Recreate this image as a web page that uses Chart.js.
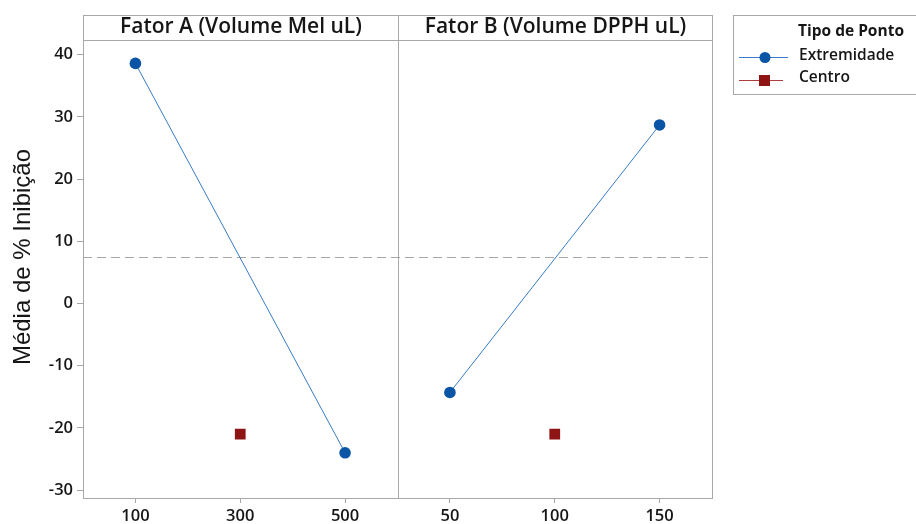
<!DOCTYPE html>
<html>
<head>
<meta charset="utf-8">
<script src="https://cdn.jsdelivr.net/npm/chart.js@4.4.1/dist/chart.umd.min.js"></script>
<style>
  html, body { margin: 0; padding: 0; background: #fff; }
  #wrap { width: 916px; height: 524px; }
</style>
</head>
<body>
<div id="wrap"><canvas id="chart" width="916" height="524"></canvas></div>
<script>
// main effects for % inhibition
const panelTitles = ['Fator A (Volume Mel uL)', 'Fator B (Volume DPPH uL)'];
const levelsA = [100, 500];
const meansA = [38.6, -24.0];
const centerA = [300];
const centerMeanA = [-21.0];
const ticksA = [100, 300, 500];

const levelsB = [50, 150];
const meansB = [-14.3, 28.7];
const centerB = [100];
const centerMeanB = [-21.0];
const ticksB = [50, 100, 150];

const overallMean = 7.4;
const yTicks = [-30, -20, -10, 0, 10, 20, 30, 40];

const yTitle = 'Média de % Inibição';
const legendTitle = 'Tipo de Ponto';
const seriesNames = ['Extremidade', 'Centro'];

const BLUE_LINE = '#3a7cc6';
const BLUE_PT = '#0b55a6';
const RED = '#8f1414';
const FRAME = '#a8a8a8';
const TEXT = '#161616';
const FONT = '"Open Sans", "Noto Sans", sans-serif';

const toPts = (xs, ys) => xs.map((x, i) => ({ x: x, y: ys[i] }));

const frameAndLabels = {
  id: 'frameAndLabels',
  beforeDraw(chart) {
    const c = chart.ctx;
    c.save();
    c.fillStyle = '#fff';
    c.fillRect(0, 0, chart.width, chart.height);
    c.restore();
  },
  beforeDatasetsDraw(chart) {
    // grand mean reference line
    const c = chart.ctx, a = chart.chartArea;
    const y = Math.round(chart.scales.y.getPixelForValue(overallMean)) + 0.5;
    c.save();
    c.strokeStyle = '#a6a6a6';
    c.lineWidth = 1;
    c.setLineDash([9, 5]);
    c.beginPath();
    c.moveTo(a.left, y);
    c.lineTo(a.right, y);
    c.stroke();
    c.restore();
  },
  afterDraw(chart) {
    const c = chart.ctx, a = chart.chartArea;
    const stripTop = 15.5;
    c.save();
    c.strokeStyle = FRAME;
    c.lineWidth = 1;
    ['xA', 'xB'].forEach((id, i) => {
      const s = chart.scales[id];
      const l = Math.round(s.left) + 0.5, r = Math.round(s.right) + 0.5;
      const t = Math.round(a.top) + 0.5, b = Math.round(a.bottom) + 0.5;
      c.strokeRect(l, stripTop, r - l, t - stripTop);
      c.strokeRect(l, t, r - l, b - t);
      c.fillStyle = TEXT;
      c.font = '600 21px ' + FONT;
      c.textAlign = 'center';
      c.textBaseline = 'middle';
      c.fillText(panelTitles[i], (l + r) / 2, 27);
    });

    // y axis title
    c.save();
    c.translate(23, 257);
    c.rotate(-Math.PI / 2);
    c.fillStyle = TEXT;
    c.font = '24px "Liberation Sans", Arial, sans-serif';
    c.textAlign = 'center';
    c.textBaseline = 'middle';
    c.fillText(yTitle, 0, 0);
    c.restore();

    // legend
    c.strokeStyle = FRAME;
    c.strokeRect(733.5, 15.5, 200, 79);
    c.fillStyle = TEXT;
    c.textAlign = 'left';
    c.textBaseline = 'middle';
    c.font = '700 15.5px ' + FONT;
    c.fillText(legendTitle, 798, 32);
    c.font = '600 15.5px ' + FONT;
    c.fillText(seriesNames[0], 799, 56);
    c.fillText(seriesNames[1], 799, 78);

    c.strokeStyle = BLUE_LINE;
    c.beginPath(); c.moveTo(739, 57.5); c.lineTo(788, 57.5); c.stroke();
    c.fillStyle = BLUE_PT;
    c.beginPath(); c.arc(765, 57.5, 5.5, 0, Math.PI * 2); c.fill();

    c.strokeStyle = '#b03c3c';
    c.beginPath(); c.moveTo(739, 80.5); c.lineTo(783, 80.5); c.stroke();
    c.fillStyle = RED;
    c.fillRect(759, 75, 11, 11);
    c.restore();
  }
};

const xScale = (ticks, min, max) => ({
  type: 'linear',
  position: 'bottom',
  stack: 'panels',
  stackWeight: 1,
  min: min,
  max: max,
  afterBuildTicks: s => { s.ticks = ticks.map(v => ({ value: v })); },
  afterFit: s => { s.height = 26; },
  grid: { drawOnChartArea: false, tickLength: 5, color: FRAME },
  border: { display: true, color: FRAME },
  ticks: { color: TEXT, padding: 3, font: { family: FONT, size: 16.5, weight: '600' }, maxRotation: 0 }
});

new Chart(document.getElementById('chart'), {
  type: 'line',
  data: {
    datasets: [
      { label: seriesNames[0], xAxisID: 'xA', data: toPts(levelsA, meansA),
        borderColor: BLUE_LINE, borderWidth: 1, pointRadius: 5.8, pointHoverRadius: 5.8,
        pointBackgroundColor: BLUE_PT, pointBorderColor: BLUE_PT, pointBorderWidth: 0 },
      { label: seriesNames[1], xAxisID: 'xA', data: toPts(centerA, centerMeanA), showLine: false,
        pointStyle: 'rect', pointRadius: 7.6, pointBackgroundColor: RED, pointBorderColor: RED, pointBorderWidth: 0 },
      { label: seriesNames[0], xAxisID: 'xB', data: toPts(levelsB, meansB),
        borderColor: BLUE_LINE, borderWidth: 1, pointRadius: 5.8, pointHoverRadius: 5.8,
        pointBackgroundColor: BLUE_PT, pointBorderColor: BLUE_PT, pointBorderWidth: 0 },
      { label: seriesNames[1], xAxisID: 'xB', data: toPts(centerB, centerMeanB), showLine: false,
        pointStyle: 'rect', pointRadius: 7.6, pointBackgroundColor: RED, pointBorderColor: RED, pointBorderWidth: 0 }
    ]
  },
  options: {
    responsive: false,
    animation: false,
    layout: { padding: { top: 40, right: 204, left: 0, bottom: 0 } },
    plugins: { legend: { display: false }, tooltip: { enabled: false } },
    scales: {
      xA: xScale(ticksA, 0, 600),
      xB: xScale(ticksB, 25, 175),
      y: {
        type: 'linear',
        position: 'left',
        min: -31.27,
        max: 42.36,
        afterBuildTicks: s => { s.ticks = yTicks.map(v => ({ value: v })); },
        afterFit: s => { s.width = 83; },
        grid: { drawOnChartArea: false, tickLength: 6, color: FRAME },
        border: { display: true, color: FRAME },
        ticks: { color: TEXT, padding: 4, font: { family: FONT, size: 16.5, weight: '600' } }
      }
    }
  },
  plugins: [frameAndLabels]
});
</script>
</body>
</html>
